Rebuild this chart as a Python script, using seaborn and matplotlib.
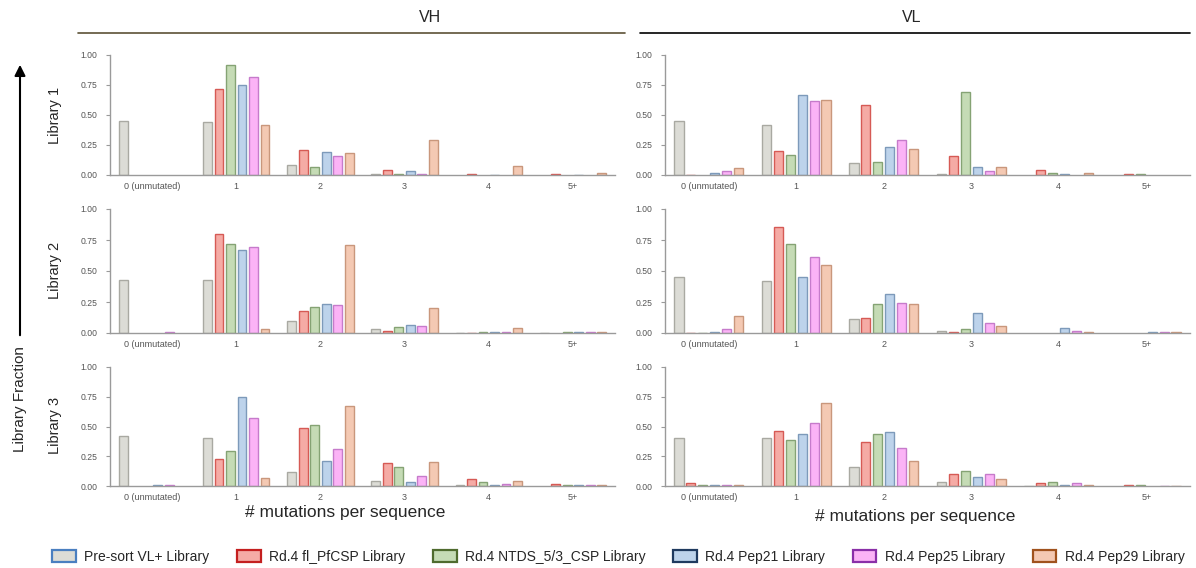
import matplotlib
matplotlib.use("Agg")
import matplotlib.pyplot as plt
from matplotlib.patches import Patch, FancyArrowPatch
from matplotlib.lines import Line2D
import seaborn as sns
import pandas as pd

categories = ["0 (unmutated)", "1", "2", "3", "4", "5+"]
series = ["Pre-sort VL+ Library", "Rd.4 fl_PfCSP Library", "Rd.4 NTDS_5/3_CSP Library",
          "Rd.4 Pep21 Library", "Rd.4 Pep25 Library", "Rd.4 Pep29 Library"]
libraries = ["Library 1", "Library 2", "Library 3"]
chains = ["VH", "VL"]

# values[series] -> list over categories
vh_lib1 = {
    "Pre-sort VL+ Library":      [0.45, 0.44, 0.08, 0.005, 0.0, 0.0],
    "Rd.4 fl_PfCSP Library":     [0.0, 0.72, 0.21, 0.04, 0.008, 0.005],
    "Rd.4 NTDS_5/3_CSP Library": [0.0, 0.92, 0.065, 0.005, 0.0, 0.0],
    "Rd.4 Pep21 Library":        [0.0, 0.75, 0.195, 0.03, 0.004, 0.003],
    "Rd.4 Pep25 Library":        [0.0, 0.82, 0.16, 0.01, 0.0, 0.0],
    "Rd.4 Pep29 Library":        [0.0, 0.42, 0.18, 0.29, 0.075, 0.018],
}
vl_lib1 = {
    "Pre-sort VL+ Library":      [0.45, 0.42, 0.10, 0.01, 0.0, 0.0],
    "Rd.4 fl_PfCSP Library":     [0.002, 0.20, 0.585, 0.155, 0.04, 0.005],
    "Rd.4 NTDS_5/3_CSP Library": [0.0, 0.165, 0.11, 0.69, 0.015, 0.005],
    "Rd.4 Pep21 Library":        [0.015, 0.665, 0.23, 0.065, 0.01, 0.0],
    "Rd.4 Pep25 Library":        [0.03, 0.62, 0.295, 0.035, 0.0, 0.0],
    "Rd.4 Pep29 Library":        [0.055, 0.625, 0.22, 0.065, 0.015, 0.0],
}
vh_lib2 = {
    "Pre-sort VL+ Library":      [0.43, 0.43, 0.10, 0.03, 0.003, 0.002],
    "Rd.4 fl_PfCSP Library":     [0.0, 0.80, 0.175, 0.02, 0.002, 0.0],
    "Rd.4 NTDS_5/3_CSP Library": [0.0, 0.72, 0.21, 0.045, 0.008, 0.005],
    "Rd.4 Pep21 Library":        [0.0, 0.67, 0.235, 0.065, 0.01, 0.005],
    "Rd.4 Pep25 Library":        [0.005, 0.69, 0.225, 0.055, 0.01, 0.005],
    "Rd.4 Pep29 Library":        [0.0, 0.03, 0.71, 0.20, 0.04, 0.01],
}
vl_lib2 = {
    "Pre-sort VL+ Library":      [0.45, 0.42, 0.11, 0.015, 0.0, 0.0],
    "Rd.4 fl_PfCSP Library":     [0.003, 0.855, 0.12, 0.01, 0.0, 0.0],
    "Rd.4 NTDS_5/3_CSP Library": [0.003, 0.72, 0.235, 0.035, 0.0, 0.0],
    "Rd.4 Pep21 Library":        [0.01, 0.455, 0.315, 0.165, 0.04, 0.008],
    "Rd.4 Pep25 Library":        [0.035, 0.615, 0.24, 0.08, 0.02, 0.005],
    "Rd.4 Pep29 Library":        [0.135, 0.55, 0.235, 0.06, 0.01, 0.005],
}
vh_lib3 = {
    "Pre-sort VL+ Library":      [0.42, 0.40, 0.12, 0.04, 0.01, 0.0],
    "Rd.4 fl_PfCSP Library":     [0.0, 0.23, 0.49, 0.195, 0.06, 0.02],
    "Rd.4 NTDS_5/3_CSP Library": [0.0, 0.29, 0.51, 0.16, 0.035, 0.01],
    "Rd.4 Pep21 Library":        [0.01, 0.75, 0.21, 0.03, 0.005, 0.005],
    "Rd.4 Pep25 Library":        [0.005, 0.57, 0.31, 0.085, 0.02, 0.01],
    "Rd.4 Pep29 Library":        [0.0, 0.065, 0.67, 0.20, 0.045, 0.01],
}
vl_lib3 = {
    "Pre-sort VL+ Library":      [0.40, 0.40, 0.16, 0.035, 0.003, 0.0],
    "Rd.4 fl_PfCSP Library":     [0.025, 0.465, 0.37, 0.10, 0.025, 0.005],
    "Rd.4 NTDS_5/3_CSP Library": [0.005, 0.385, 0.44, 0.125, 0.03, 0.005],
    "Rd.4 Pep21 Library":        [0.005, 0.44, 0.455, 0.075, 0.005, 0.0],
    "Rd.4 Pep25 Library":        [0.01, 0.53, 0.32, 0.10, 0.025, 0.003],
    "Rd.4 Pep29 Library":        [0.01, 0.70, 0.21, 0.055, 0.01, 0.003],
}

panels = {
    ("VH", "Library 1"): vh_lib1, ("VL", "Library 1"): vl_lib1,
    ("VH", "Library 2"): vh_lib2, ("VL", "Library 2"): vl_lib2,
    ("VH", "Library 3"): vh_lib3, ("VL", "Library 3"): vl_lib3,
}

fill_colors = ["#dcdcd6", "#f5aba5", "#c5dbb5", "#bdd3eb", "#fbb3f6", "#f4c9b3"]
edge_colors = ["#a9a9a2", "#d65a55", "#85a374", "#7d9aba", "#c67bcb", "#c9977c"]
legend_edges = ["#4a7fc0", "#c41f1f", "#4f6b2e", "#1f3a5f", "#8a2fa8", "#a0521d"]

sns.set_style("white")
plt.rcParams["font.family"] = ["Liberation Sans", "DejaVu Sans"]

fig = plt.figure(figsize=(11.96, 5.68), dpi=100)

W, H = 1196, 568
col_x = {"VH": (110, 615), "VL": (665, 1190)}
row_y = {"Library 1": (55, 175), "Library 2": (209, 333), "Library 3": (367, 486)}

for (chain, lib), vals in panels.items():
    x0, x1 = col_x[chain]
    yt, yb = row_y[lib]
    ax = fig.add_axes([x0 / W, 1 - yb / H, (x1 - x0) / W, (yb - yt) / H])
    rows = []
    for s in series:
        for c, v in zip(categories, vals[s]):
            rows.append({"cat": c, "series": s, "value": v})
    df = pd.DataFrame(rows)
    sns.barplot(data=df, x="cat", y="value", hue="series", order=categories,
                hue_order=series, palette=fill_colors, saturation=1,
                width=0.82, gap=0.22, linewidth=1.0, legend=False, ax=ax)
    for cont, ec in zip(ax.containers, edge_colors):
        for bar in cont:
            bar.set_edgecolor(ec)
            if bar.get_height() <= 0:
                bar.set_visible(False)
    ax.set_xlim(-0.5, 5.5)
    ax.set_ylim(0, 1.0)
    ax.set_yticks([0, 0.25, 0.5, 0.75, 1.0])
    ax.set_yticklabels(["0.00", "0.25", "0.50", "0.75", "1.00"])
    ax.set_xlabel("")
    ax.set_ylabel("")
    for sp in ["top", "right"]:
        ax.spines[sp].set_visible(False)
    for sp in ["left", "bottom"]:
        ax.spines[sp].set_color("#9a9a9a")
        ax.spines[sp].set_linewidth(1.0)
    ax.set_xticks([0.5, 1.5, 2.5, 3.5, 4.5], minor=True)
    ax.tick_params(axis="x", which="major", length=0, labelsize=6.5,
                   labelcolor="#555555", pad=5)
    ax.tick_params(axis="x", which="minor", length=3, color="#9a9a9a", direction="out")
    ax.tick_params(axis="y", length=3, color="#9a9a9a", labelsize=6.2,
                   labelcolor="#555555", direction="out", left=True, pad=6)

# column headers
fig.text(430 / W, 1 - 18 / H, "VH", ha="center", va="center", fontsize=11.5)
fig.text(912 / W, 1 - 18 / H, "VL", ha="center", va="center", fontsize=11.5)
fig.add_artist(Line2D([78 / W, 625 / W], [1 - 33 / H, 1 - 33 / H],
                      transform=fig.transFigure, color="#5c5236", lw=1.2))
fig.add_artist(Line2D([640 / W, 1190 / W], [1 - 33 / H, 1 - 33 / H],
                      transform=fig.transFigure, color="black", lw=1.2))

# x labels
fig.text(345 / W, 1 - 513 / H, "# mutations per sequence", ha="center", va="center", fontsize=12.5)
fig.text(915 / W, 1 - 516 / H, "# mutations per sequence", ha="center", va="center", fontsize=12.5)

# row labels
for lib, yc in zip(libraries, [115, 270, 425]):
    fig.text(55 / W, 1 - yc / H, lib, rotation=90, ha="center", va="center", fontsize=10.5)

# library fraction arrow
fig.add_artist(FancyArrowPatch((20 / W, 1 - 338 / H), (20 / W, 1 - 62 / H),
                               transform=fig.transFigure, arrowstyle="-|>",
                               mutation_scale=16, lw=1.5, color="black"))
fig.text(20 / W, 1 - 399 / H, "Library Fraction", rotation=90, ha="center",
         va="center", fontsize=11)

# legend
handles = [Patch(facecolor=f, edgecolor=e, linewidth=1.6, label=s)
           for f, e, s in zip(fill_colors, legend_edges, series)]
fig.legend(handles=handles, loc="center", bbox_to_anchor=(0.517, 1 - 557 / H),
           ncol=6, frameon=False, fontsize=10, handlelength=1.7, handleheight=1.0,
           columnspacing=2.0, handletextpad=0.6, borderaxespad=0)

fig.savefig("out.png", dpi=100, facecolor="white")
